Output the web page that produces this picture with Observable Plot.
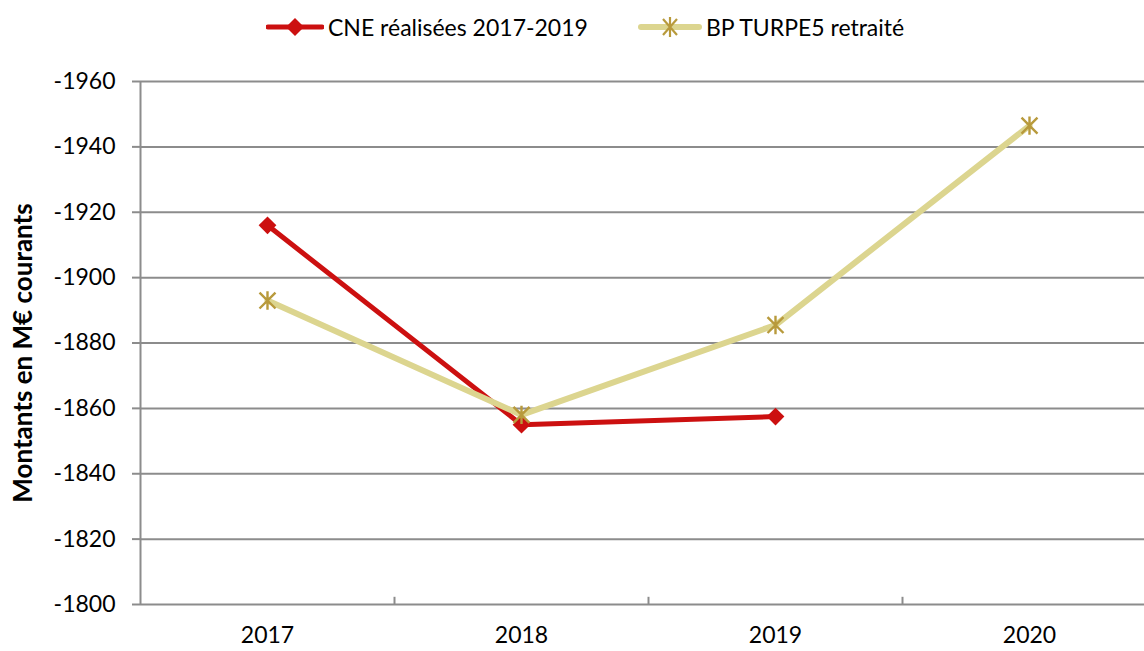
<!DOCTYPE html>
<html><head><meta charset="utf-8">
<script src="https://cdn.jsdelivr.net/npm/d3@7"></script>
<script src="https://cdn.jsdelivr.net/npm/@observablehq/plot@0.6"></script>
<style>
body{margin:0;background:#fff;font-family:Lato,"Open Sans",sans-serif;}
#legend{position:relative;width:1144px;height:55px;font-size:23px;color:#000;}
#legend .item{position:absolute;top:13px;display:flex;align-items:center;height:28px;}
#legend svg{display:block;margin-right:4px;}
</style></head><body>
<div id="legend"></div>
<div id="chart"></div>
<script>
const years = [2017, 2018, 2019, 2020];
const cneYears = [2017, 2018, 2019];
const cneValues = [-1916, -1855, -1857.5];
const bpYears = [2017, 2018, 2019, 2020];
const bpValues = [-1893, -1858, -1885.5, -1946.5];
const yTicks = [-1960, -1940, -1920, -1900, -1880, -1860, -1840, -1820, -1800];
const xBoundaries = [2017.5, 2018.5, 2019.5];
const seriesNames = ["CNE réalisées 2017-2019", "BP TURPE5 retraité"];

const RED = "#cc1010", BPLINE = "#dcd58f", BPMARK = "#b89a3c", GRID = "#8c8c8c";

const cne = cneYears.map((y, i) => ({year: y, value: cneValues[i]}));
const bp = bpYears.map((y, i) => ({year: y, value: bpValues[i]}));

const star = {draw(ctx, size) {
  const r = Math.sqrt(size) / 2;
  ctx.moveTo(-r, -r); ctx.lineTo(r, r);
  ctx.moveTo(r, -r); ctx.lineTo(-r, r);
  ctx.moveTo(0, -r * 1.15); ctx.lineTo(0, r * 1.15);
}};

// Legend
const legend = document.getElementById("legend");
const lg = [
  {name: seriesNames[0], left: 266, svg: `<svg width="58" height="20"><line x1="2" x2="56" y1="10" y2="10" stroke="${RED}" stroke-width="5" stroke-linecap="round"/><path d="M29 1 L38 10 L29 19 L20 10 Z" fill="${RED}"/></svg>`},
  {name: seriesNames[1], left: 638, svg: `<svg width="64" height="20"><line x1="3" x2="61" y1="10" y2="10" stroke="${BPLINE}" stroke-width="6" stroke-linecap="round"/><path d="M25 2 L39 18 M39 2 L25 18 M32 0 L32 20" stroke="${BPMARK}" stroke-width="2.2" fill="none"/></svg>`}
];
for (const it of lg) {
  const d = document.createElement("div");
  d.className = "item";
  d.style.left = it.left + "px";
  d.innerHTML = it.svg + `<span>${it.name}</span>`;
  legend.appendChild(d);
}

const chart = Plot.plot({
  width: 1144,
  height: 596,
  marginTop: 26,
  marginBottom: 47,
  marginLeft: 140,
  marginRight: 0,
  style: {fontFamily: "Lato, 'Open Sans', sans-serif", background: "#fff", color: "#000"},
  x: {type: "linear", domain: [2016.5, 2020.5], range: [140, 1156]},
  y: {domain: [-1800, -1960]},
  marks: [
    Plot.gridY(yTicks, {stroke: GRID, strokeOpacity: 1, strokeWidth: 2}),
    Plot.ruleX([2016.5], {stroke: GRID, strokeWidth: 2}),
    Plot.ruleX(xBoundaries, {y1: -1800, y2: -1802.2, stroke: GRID, strokeWidth: 2}),
    Plot.axisY(yTicks, {tickSize: 8, tickPadding: 17, stroke: GRID, strokeWidth: 2, strokeOpacity: 1, tickFormat: d => String(d), fontSize: 23, label: null}),
    Plot.axisX(years, {tickSize: 0, tickPadding: 22, tickFormat: d => String(d), fontSize: 23, label: null}),
    Plot.text(["Montants en M€ courants"], {frameAnchor: "left", dx: -117, dy: 10, rotate: -90, textAnchor: "middle", fontWeight: "bold", fontSize: 26, fill: "#000"}),
    Plot.line(cne, {x: "year", y: "value", stroke: RED, strokeWidth: 5}),
    Plot.dot(cne, {x: "year", y: "value", symbol: "diamond2", r: 8, fill: RED, stroke: "none"}),
    Plot.line(bp, {x: "year", y: "value", stroke: BPLINE, strokeWidth: 6}),
    Plot.dot(bp, {x: "year", y: "value", symbol: star, r: 9, stroke: BPMARK, strokeWidth: 2.4, fill: "none"})
  ]
});
document.getElementById("chart").appendChild(chart);
</script>
</body></html>
